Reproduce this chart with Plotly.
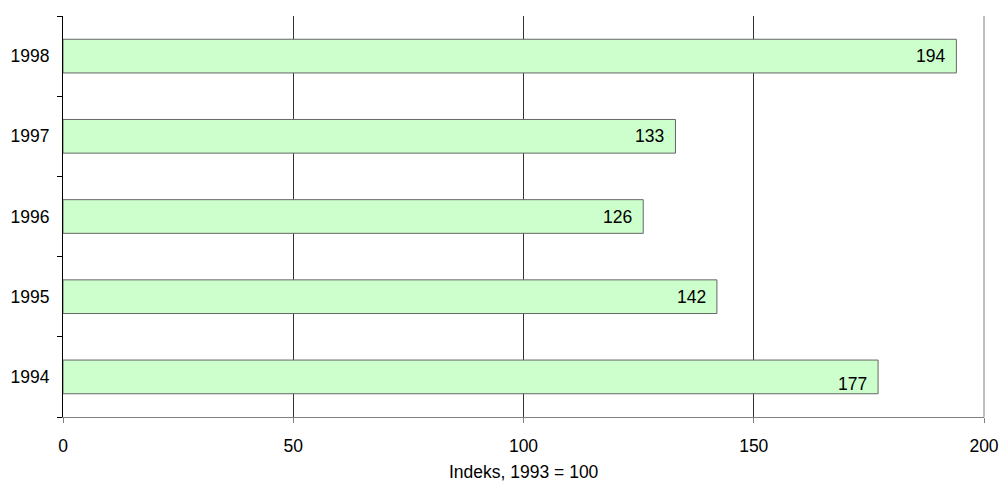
import plotly.graph_objects as go

years = ["1994", "1995", "1996", "1997", "1998"]
values = [177, 142, 126, 133, 194]
x_ticks = [0, 50, 100, 150, 200]
x_title = "Indeks, 1993 = 100"
label_yshift = {"1994": -7}

FONT = "Liberation Sans, Arial, sans-serif"
FS = 17.5

fig = go.Figure()
fig.add_trace(go.Bar(
    y=years, x=values, orientation="h",
    marker=dict(color="#CCFFCC", line=dict(color="#666666", width=1)),
    hoverinfo="skip",
))

for i, (y, v) in enumerate(zip(years, values)):
    fig.add_annotation(
        x=v, y=i, xref="x", yref="y", text=str(v), showarrow=False,
        xanchor="right", yanchor="middle", xshift=-9,
        yshift=label_yshift.get(y, 0),
        font=dict(family=FONT, size=FS, color="#000000"),
    )

# axis title placed under the tick labels
fig.add_annotation(
    x=0.5, y=0, xref="paper", yref="paper", text=x_title, showarrow=False,
    xanchor="center", yanchor="middle", yshift=-55,
    font=dict(family=FONT, size=FS, color="#000000"),
)

# lighter gridline at the right end of the value axis (range end = 200)
fig.add_shape(type="line", xref="paper", yref="paper",
              x0=1, x1=1, y0=0, y1=1,
              line=dict(color="#808080", width=1))

fig.update_layout(
    width=1002, height=482,
    margin=dict(l=63, r=18, t=16, b=65),
    paper_bgcolor="white", plot_bgcolor="white",
    bargap=0.58, showlegend=False,
    font=dict(family=FONT, size=FS, color="#000000"),
    xaxis=dict(
        range=[0, 200], tickvals=x_ticks, ticktext=[str(t) for t in x_ticks],
        showgrid=True, gridcolor="#333333", gridwidth=1,
        showline=True, linecolor="#808080", linewidth=1,
        ticks="outside", ticklen=5, tickcolor="#808080",
        zeroline=False, automargin=False, ticklabelstandoff=8,
    ),
    yaxis=dict(
        type="category", categoryorder="array", categoryarray=years,
        range=[-0.5, len(years) - 0.5],
        showgrid=False, showline=True, linecolor="#000000", linewidth=1,
        ticks="outside", ticklen=5, tickcolor="#000000",
        tickson="boundaries", zeroline=False, ticklabelstandoff=9,
        automargin=False,
    ),
)

fig.write_html(
    "out.html",
    config={"displayModeBar": False},
    post_script="document.body.style.margin='0';document.body.style.overflow='hidden';",
)
